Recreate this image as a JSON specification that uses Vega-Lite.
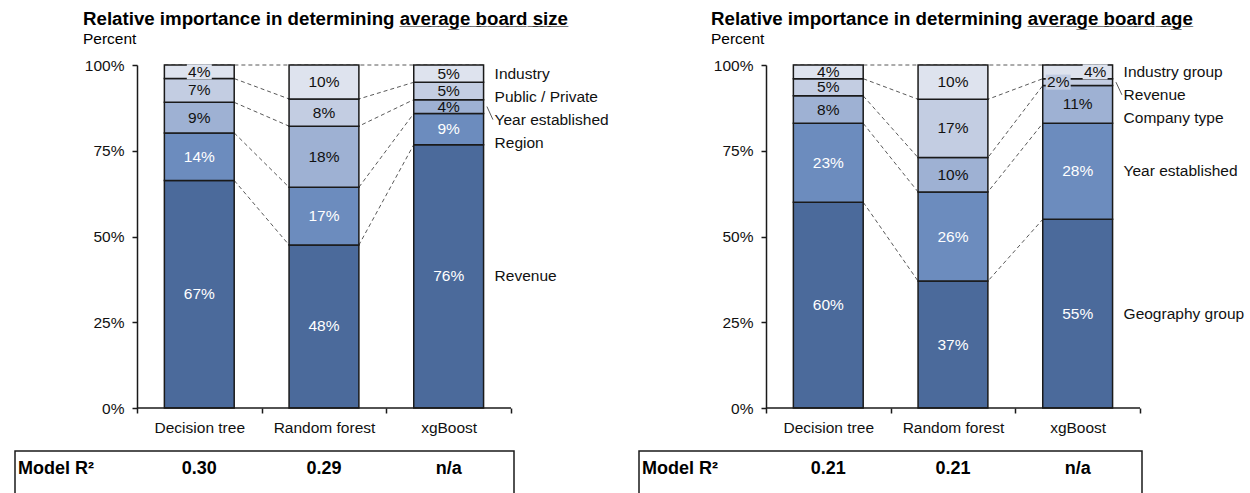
{
  "$schema": "https://vega.github.io/schema/vega-lite/v6.json",
  "padding": {"left": 14, "top": 9, "right": 0, "bottom": 0},
  "config": {
    "font": "Liberation Sans",
    "view": {"stroke": null},
    "text": {"font": "Liberation Sans"},
    "title": {"color": "#000000", "subtitleColor": "#000000", "font": "Liberation Sans", "subtitleFont": "Liberation Sans"},
    "axis": {"grid": false, "tickSize": 5, "tickWidth": 1.5, "tickColor": "#1a1a1a", "domainColor": "#1a1a1a", "domainWidth": 1.5, "labelFontSize": 15.5, "labelColor": "#111111", "labelFont": "Liberation Sans"}
  },
  "datasets": {
    "shares": [
      {"panel": "size", "model": "Decision tree", "factor": "Revenue", "level": 1, "value": 67},
      {"panel": "size", "model": "Decision tree", "factor": "Region", "level": 2, "value": 14},
      {"panel": "size", "model": "Decision tree", "factor": "Year established", "level": 3, "value": 9},
      {"panel": "size", "model": "Decision tree", "factor": "Public / Private", "level": 4, "value": 7},
      {"panel": "size", "model": "Decision tree", "factor": "Industry", "level": 5, "value": 4},
      {"panel": "size", "model": "Random forest", "factor": "Revenue", "level": 1, "value": 48},
      {"panel": "size", "model": "Random forest", "factor": "Region", "level": 2, "value": 17},
      {"panel": "size", "model": "Random forest", "factor": "Year established", "level": 3, "value": 18},
      {"panel": "size", "model": "Random forest", "factor": "Public / Private", "level": 4, "value": 8},
      {"panel": "size", "model": "Random forest", "factor": "Industry", "level": 5, "value": 10},
      {"panel": "size", "model": "xgBoost", "factor": "Revenue", "level": 1, "value": 76},
      {"panel": "size", "model": "xgBoost", "factor": "Region", "level": 2, "value": 9},
      {"panel": "size", "model": "xgBoost", "factor": "Year established", "level": 3, "value": 4},
      {"panel": "size", "model": "xgBoost", "factor": "Public / Private", "level": 4, "value": 5},
      {"panel": "size", "model": "xgBoost", "factor": "Industry", "level": 5, "value": 5},
      {"panel": "age", "model": "Decision tree", "factor": "Geography group", "level": 1, "value": 60},
      {"panel": "age", "model": "Decision tree", "factor": "Year established", "level": 2, "value": 23},
      {"panel": "age", "model": "Decision tree", "factor": "Company type", "level": 3, "value": 8},
      {"panel": "age", "model": "Decision tree", "factor": "Revenue", "level": 4, "value": 5},
      {"panel": "age", "model": "Decision tree", "factor": "Industry group", "level": 5, "value": 4},
      {"panel": "age", "model": "Random forest", "factor": "Geography group", "level": 1, "value": 37},
      {"panel": "age", "model": "Random forest", "factor": "Year established", "level": 2, "value": 26},
      {"panel": "age", "model": "Random forest", "factor": "Company type", "level": 3, "value": 10},
      {"panel": "age", "model": "Random forest", "factor": "Revenue", "level": 4, "value": 17},
      {"panel": "age", "model": "Random forest", "factor": "Industry group", "level": 5, "value": 10},
      {"panel": "age", "model": "xgBoost", "factor": "Geography group", "level": 1, "value": 55},
      {"panel": "age", "model": "xgBoost", "factor": "Year established", "level": 2, "value": 28},
      {"panel": "age", "model": "xgBoost", "factor": "Company type", "level": 3, "value": 11},
      {"panel": "age", "model": "xgBoost", "factor": "Revenue", "level": 4, "value": 2},
      {"panel": "age", "model": "xgBoost", "factor": "Industry group", "level": 5, "value": 4}
    ],
    "fit": [
      {"panel": "size", "model": "Decision tree", "r2": "0.30"},
      {"panel": "size", "model": "Random forest", "r2": "0.29"},
      {"panel": "size", "model": "xgBoost", "r2": "n/a"},
      {"panel": "age", "model": "Decision tree", "r2": "0.21"},
      {"panel": "age", "model": "Random forest", "r2": "0.21"},
      {"panel": "age", "model": "xgBoost", "r2": "n/a"}
    ]
  },
  "spacing": 29,
  "hconcat": [
    {
      "spacing": 14,
      "vconcat": [
        {
          "width": 499,
          "height": 343,
          "title": {
            "text": "Relative importance in determining a\u0332v\u0332e\u0332r\u0332a\u0332g\u0332e\u0332 \u0332b\u0332o\u0332a\u0332r\u0332d\u0332 \u0332s\u0332i\u0332z\u0332e\u0332",
            "subtitle": "Percent",
            "anchor": "start",
            "frame": "group",
            "dx": 68,
            "fontSize": 18.7,
            "fontWeight": "bold",
            "subtitleFontSize": 15.5,
            "subtitlePadding": 3,
            "offset": 11
          },
          "data": {"name": "shares"},
          "transform": [
            {"filter": "datum.panel === 'size'"},
            {"calculate": "indexof(['Decision tree', 'Random forest', 'xgBoost'], datum.model)", "as": "idx"},
            {"joinaggregate": [{"op": "sum", "field": "value", "as": "total"}], "groupby": ["model"]},
            {"window": [{"op": "sum", "field": "value", "as": "cum"}, {"op": "lag", "field": "value", "as": "below"}], "sort": [{"field": "level", "order": "ascending"}], "groupby": ["model"], "frame": [null, 0]},
            {"calculate": "datum.cum / datum.total", "as": "y1"},
            {"calculate": "(datum.cum - datum.value) / datum.total", "as": "y0"},
            {"calculate": "(datum.y0 + datum.y1) / 2", "as": "mid"},
            {"calculate": "datum.idx + 0.22", "as": "xl"},
            {"calculate": "datum.idx + 0.78", "as": "xr"},
            {"calculate": "datum.value / datum.total < 0.03 ? -0.156 : (datum.below != null && datum.below / datum.total < 0.03 ? 0.14 : 0)", "as": "shift"},
            {"calculate": "datum.idx + 0.5 + datum.shift", "as": "lx"},
            {"calculate": "datum.value + '%'", "as": "pct"},
            {"calculate": "datum.mid + 0.067 * (5 - datum.level)", "as": "reach"},
            {"window": [{"op": "min", "field": "reach", "as": "reachMin"}], "sort": [{"field": "level", "order": "descending"}], "groupby": ["model"], "frame": [null, 0]},
            {"calculate": "datum.reachMin - 0.067 * (5 - datum.level)", "as": "labelY"}
          ],
          "layer": [
            {
              "transform": [{"fold": ["xl", "xr"], "as": ["edge", "xe"]}],
              "mark": {"type": "line", "strokeDash": [4, 3], "color": "#595959", "strokeWidth": 1},
              "encoding": {
                "x": {
                  "field": "xe", "type": "quantitative",
                  "scale": {"domain": [-0.978, 3.024], "nice": false, "zero": false},
                  "axis": {
                    "title": null,
                    "values": [0, 0.5, 1, 1.5, 2, 2.5, 3],
                    "labelExpr": "datum.value == 0.5 ? 'Decision tree' : datum.value == 1.5 ? 'Random forest' : datum.value == 2.5 ? 'xgBoost' : ''",
                    "domain": false,
                    "tickOpacity": {"condition": {"test": "datum.value % 1 != 0", "value": 0}, "value": 1},
                    "labelPadding": 7, "labelOverlap": false, "labelBound": false, "labelFlush": false
                  }
                },
                "y": {
                  "field": "y1", "type": "quantitative",
                  "scale": {"domain": [0, 1], "nice": false},
                  "axis": {"title": null, "values": [0, 0.25, 0.5, 0.75, 1], "format": ".0%", "offset": -122, "labelPadding": 8}
                },
                "detail": {"field": "level"},
                "order": {"field": "xe"}
              }
            },
            {
              "mark": {"type": "rect", "stroke": "#1a1a1a", "strokeWidth": 1.5},
              "encoding": {
                "x": {"field": "xl", "type": "quantitative"},
                "x2": {"field": "xr"},
                "y": {"field": "y0", "type": "quantitative"},
                "y2": {"field": "y1"},
                "color": {
                  "field": "level", "type": "ordinal",
                  "scale": {"domain": [1, 2, 3, 4, 5], "range": ["#4b6a9b", "#6c8cbe", "#9eb1d3", "#c3cde2", "#dee3ee"]},
                  "legend": null
                }
              }
            },
            {
              "transform": [
                {"filter": "datum.value / datum.total < 0.0398 || datum.shift !== 0"},
                {"calculate": "datum.lx - 0.1", "as": "bx0"},
                {"calculate": "datum.lx + 0.1", "as": "bx1"},
                {"calculate": "datum.mid - 0.022", "as": "by0"},
                {"calculate": "datum.mid + 0.022", "as": "by1"}
              ],
              "mark": {"type": "rect"},
              "encoding": {
                "x": {"field": "bx0", "type": "quantitative"},
                "x2": {"field": "bx1"},
                "y": {"field": "by0", "type": "quantitative"},
                "y2": {"field": "by1"},
                "color": {"field": "level", "type": "ordinal", "legend": null}
              }
            },
            {
              "mark": {"type": "text", "fontSize": 15.5},
              "encoding": {
                "x": {"field": "lx", "type": "quantitative"},
                "y": {"field": "mid", "type": "quantitative"},
                "text": {"field": "pct"},
                "color": {"condition": {"test": "datum.level <= 2", "value": "#ffffff"}, "value": "#111111"}
              }
            },
            {
              "transform": [{"filter": "datum.idx === 2"}],
              "mark": {"type": "text", "fontSize": 15.5, "align": "left", "dx": 11, "color": "#111111"},
              "encoding": {
                "x": {"field": "xr", "type": "quantitative"},
                "y": {"field": "labelY", "type": "quantitative"},
                "text": {"field": "factor"}
              }
            },
            {
              "transform": [
                {"filter": "datum.idx === 2 && (datum.labelY < datum.y0 || datum.labelY > datum.y1)"},
                {"calculate": "datum.xr + 0.027", "as": "la"},
                {"calculate": "datum.xr + 0.075", "as": "lb"}
              ],
              "mark": {"type": "rule", "color": "#595959", "strokeWidth": 1},
              "encoding": {
                "x": {"field": "la", "type": "quantitative"},
                "x2": {"field": "lb"},
                "y": {"field": "mid", "type": "quantitative"},
                "y2": {"field": "labelY"}
              }
            },
            {
              "transform": [{"filter": "datum.idx === 0 && datum.level === 1"}],
              "mark": {"type": "rule", "color": "#1a1a1a", "strokeWidth": 1.5},
              "encoding": {
                "x": {"datum": 0, "type": "quantitative"},
                "x2": {"datum": 3},
                "y": {"datum": 0, "type": "quantitative"}
              }
            }
          ]
        },
        {
          "width": 499,
          "height": 48,
          "view": {"stroke": "#1a1a1a", "strokeWidth": 1.5},
          "data": {"name": "fit"},
          "transform": [
            {"filter": "datum.panel === 'size'"},
            {"calculate": "indexof(['Decision tree', 'Random forest', 'xgBoost'], datum.model) + 0.5", "as": "xc"}
          ],
          "layer": [
            {
              "mark": {"type": "text", "fontSize": 18, "fontWeight": "bold", "color": "#000000"},
              "encoding": {
                "x": {"field": "xc", "type": "quantitative", "scale": {"domain": [-0.978, 3.024], "nice": false, "zero": false}, "axis": null},
                "y": {"datum": 1.25, "type": "quantitative", "scale": {"domain": [0, 2], "nice": false}, "axis": null},
                "text": {"field": "r2"}
              }
            },
            {
              "transform": [{"filter": "datum.model === 'Decision tree'"}],
              "mark": {"type": "text", "fontSize": 18, "fontWeight": "bold", "align": "left", "dx": 3, "color": "#000000"},
              "encoding": {
                "x": {"datum": -0.978, "type": "quantitative", "axis": null},
                "y": {"datum": 1.25, "type": "quantitative", "axis": null},
                "text": {"value": "Model R\u00b2"}
              }
            }
          ]
        }
      ]
    },
    {
      "spacing": 14,
      "vconcat": [
        {
          "width": 503,
          "height": 343,
          "title": {
            "text": "Relative importance in determining a\u0332v\u0332e\u0332r\u0332a\u0332g\u0332e\u0332 \u0332b\u0332o\u0332a\u0332r\u0332d\u0332 \u0332a\u0332g\u0332e\u0332",
            "subtitle": "Percent",
            "anchor": "start",
            "frame": "group",
            "dx": 72,
            "fontSize": 18.7,
            "fontWeight": "bold",
            "subtitleFontSize": 15.5,
            "subtitlePadding": 3,
            "offset": 11
          },
          "data": {"name": "shares"},
          "transform": [
            {"filter": "datum.panel === 'age'"},
            {"calculate": "indexof(['Decision tree', 'Random forest', 'xgBoost'], datum.model)", "as": "idx"},
            {"joinaggregate": [{"op": "sum", "field": "value", "as": "total"}], "groupby": ["model"]},
            {"window": [{"op": "sum", "field": "value", "as": "cum"}, {"op": "lag", "field": "value", "as": "below"}], "sort": [{"field": "level", "order": "ascending"}], "groupby": ["model"], "frame": [null, 0]},
            {"calculate": "datum.cum / datum.total", "as": "y1"},
            {"calculate": "(datum.cum - datum.value) / datum.total", "as": "y0"},
            {"calculate": "(datum.y0 + datum.y1) / 2", "as": "mid"},
            {"calculate": "datum.idx + 0.22", "as": "xl"},
            {"calculate": "datum.idx + 0.78", "as": "xr"},
            {"calculate": "datum.value / datum.total < 0.03 ? -0.156 : (datum.below != null && datum.below / datum.total < 0.03 ? 0.14 : 0)", "as": "shift"},
            {"calculate": "datum.idx + 0.5 + datum.shift", "as": "lx"},
            {"calculate": "datum.value + '%'", "as": "pct"},
            {"calculate": "datum.mid + 0.067 * (5 - datum.level)", "as": "reach"},
            {"window": [{"op": "min", "field": "reach", "as": "reachMin"}], "sort": [{"field": "level", "order": "descending"}], "groupby": ["model"], "frame": [null, 0]},
            {"calculate": "datum.reachMin - 0.067 * (5 - datum.level)", "as": "labelY"}
          ],
          "layer": [
            {
              "transform": [{"fold": ["xl", "xr"], "as": ["edge", "xe"]}],
              "mark": {"type": "line", "strokeDash": [4, 3], "color": "#595959", "strokeWidth": 1},
              "encoding": {
                "x": {
                  "field": "xe", "type": "quantitative",
                  "scale": {"domain": [-1.018, 3.016], "nice": false, "zero": false},
                  "axis": {
                    "title": null,
                    "values": [0, 0.5, 1, 1.5, 2, 2.5, 3],
                    "labelExpr": "datum.value == 0.5 ? 'Decision tree' : datum.value == 1.5 ? 'Random forest' : datum.value == 2.5 ? 'xgBoost' : ''",
                    "domain": false,
                    "tickOpacity": {"condition": {"test": "datum.value % 1 != 0", "value": 0}, "value": 1},
                    "labelPadding": 7, "labelOverlap": false, "labelBound": false, "labelFlush": false
                  }
                },
                "y": {
                  "field": "y1", "type": "quantitative",
                  "scale": {"domain": [0, 1], "nice": false},
                  "axis": {"title": null, "values": [0, 0.25, 0.5, 0.75, 1], "format": ".0%", "offset": -127, "labelPadding": 8}
                },
                "detail": {"field": "level"},
                "order": {"field": "xe"}
              }
            },
            {
              "mark": {"type": "rect", "stroke": "#1a1a1a", "strokeWidth": 1.5},
              "encoding": {
                "x": {"field": "xl", "type": "quantitative"},
                "x2": {"field": "xr"},
                "y": {"field": "y0", "type": "quantitative"},
                "y2": {"field": "y1"},
                "color": {
                  "field": "level", "type": "ordinal",
                  "scale": {"domain": [1, 2, 3, 4, 5], "range": ["#4b6a9b", "#6c8cbe", "#9eb1d3", "#c3cde2", "#dee3ee"]},
                  "legend": null
                }
              }
            },
            {
              "transform": [
                {"filter": "datum.value / datum.total < 0.0398 || datum.shift !== 0"},
                {"calculate": "datum.lx - 0.1", "as": "bx0"},
                {"calculate": "datum.lx + 0.1", "as": "bx1"},
                {"calculate": "datum.mid - 0.022", "as": "by0"},
                {"calculate": "datum.mid + 0.022", "as": "by1"}
              ],
              "mark": {"type": "rect"},
              "encoding": {
                "x": {"field": "bx0", "type": "quantitative"},
                "x2": {"field": "bx1"},
                "y": {"field": "by0", "type": "quantitative"},
                "y2": {"field": "by1"},
                "color": {"field": "level", "type": "ordinal", "legend": null}
              }
            },
            {
              "mark": {"type": "text", "fontSize": 15.5},
              "encoding": {
                "x": {"field": "lx", "type": "quantitative"},
                "y": {"field": "mid", "type": "quantitative"},
                "text": {"field": "pct"},
                "color": {"condition": {"test": "datum.level <= 2", "value": "#ffffff"}, "value": "#111111"}
              }
            },
            {
              "transform": [{"filter": "datum.idx === 2"}],
              "mark": {"type": "text", "fontSize": 15.5, "align": "left", "dx": 11, "color": "#111111"},
              "encoding": {
                "x": {"field": "xr", "type": "quantitative"},
                "y": {"field": "labelY", "type": "quantitative"},
                "text": {"field": "factor"}
              }
            },
            {
              "transform": [
                {"filter": "datum.idx === 2 && (datum.labelY < datum.y0 || datum.labelY > datum.y1)"},
                {"calculate": "datum.xr + 0.027", "as": "la"},
                {"calculate": "datum.xr + 0.075", "as": "lb"}
              ],
              "mark": {"type": "rule", "color": "#595959", "strokeWidth": 1},
              "encoding": {
                "x": {"field": "la", "type": "quantitative"},
                "x2": {"field": "lb"},
                "y": {"field": "mid", "type": "quantitative"},
                "y2": {"field": "labelY"}
              }
            },
            {
              "transform": [{"filter": "datum.idx === 0 && datum.level === 1"}],
              "mark": {"type": "rule", "color": "#1a1a1a", "strokeWidth": 1.5},
              "encoding": {
                "x": {"datum": 0, "type": "quantitative"},
                "x2": {"datum": 3},
                "y": {"datum": 0, "type": "quantitative"}
              }
            }
          ]
        },
        {
          "width": 503,
          "height": 48,
          "view": {"stroke": "#1a1a1a", "strokeWidth": 1.5},
          "data": {"name": "fit"},
          "transform": [
            {"filter": "datum.panel === 'age'"},
            {"calculate": "indexof(['Decision tree', 'Random forest', 'xgBoost'], datum.model) + 0.5", "as": "xc"}
          ],
          "layer": [
            {
              "mark": {"type": "text", "fontSize": 18, "fontWeight": "bold", "color": "#000000"},
              "encoding": {
                "x": {"field": "xc", "type": "quantitative", "scale": {"domain": [-1.018, 3.016], "nice": false, "zero": false}, "axis": null},
                "y": {"datum": 1.25, "type": "quantitative", "scale": {"domain": [0, 2], "nice": false}, "axis": null},
                "text": {"field": "r2"}
              }
            },
            {
              "transform": [{"filter": "datum.model === 'Decision tree'"}],
              "mark": {"type": "text", "fontSize": 18, "fontWeight": "bold", "align": "left", "dx": 3, "color": "#000000"},
              "encoding": {
                "x": {"datum": -1.018, "type": "quantitative", "axis": null},
                "y": {"datum": 1.25, "type": "quantitative", "axis": null},
                "text": {"value": "Model R\u00b2"}
              }
            }
          ]
        }
      ]
    }
  ]
}
